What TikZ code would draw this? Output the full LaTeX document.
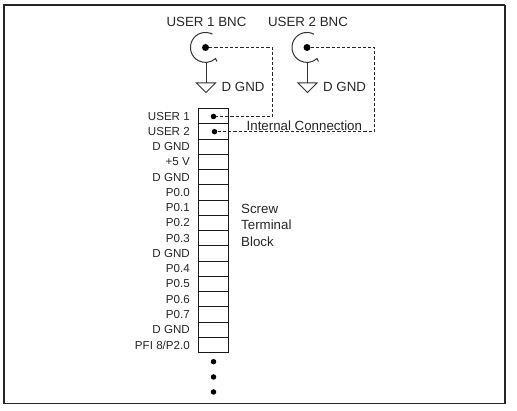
\documentclass[tikz,border=0pt]{standalone}
\usepackage{fontspec}
\setmainfont{Liberation Sans}
\tikzset{
  x=1pt,y=-1pt,
  frameline/.style={line width=#1,draw=black!85},
  rowbox/.style={draw=black!90,line width=1pt,minimum width=30.5pt,minimum height=15.26pt,inner sep=0pt,outer sep=0pt},
  rowlabel/.style={anchor=east,font=\fontsize{11.6}{12}\selectfont,text=black!85,inner sep=0pt},
  biglabel/.style={font=\fontsize{13.3}{14}\selectfont,text=black!85,inner sep=0pt},
  conn/.style={draw=black!85,line width=1pt,dash pattern=on 3.2pt off 2pt},
  wire/.style={draw=black!80,line width=1pt},
  blob/.style={circle,fill=black,inner sep=0pt,minimum size=#1},
}
\begin{document}
\begin{tikzpicture}
\useasboundingbox (0,0) rectangle (517,411);
% frame
\draw[frameline=2pt] (3.5,404) -- (3.5,5) -- (505,5);
\draw[frameline=1.5pt] (505,5) -- (505,404);
\draw[frameline=1pt] (3.5,404) -- (505,404);
% BNC connectors
\node[biglabel] (t1) at (206.5,22) {USER 1 BNC};
\node[biglabel] (t2) at (308,22) {USER 2 BNC};
\node[blob=7pt] (b1) at (205.5,47.5) {};
\node[blob=7pt] (b2) at (307,47.5) {};
\draw[wire] (212.5,34.2) arc[start angle=-62,end angle=-312,radius=15] -- (217,61.5);
\draw[wire] (314,34.2) arc[start angle=-62,end angle=-312,radius=15] -- (318.5,61.5);
% grounds
\coordinate (s1) at (206,62);
\coordinate (g1) at (206,83);
\coordinate (s2) at (307.5,62);
\coordinate (g2) at (307.5,83);
\draw[wire] (s1) -- (g1);
\draw[wire] (s2) -- (g2);
\draw[wire,line join=miter] (196.5,83) -- (215.5,83) -- (206,92.5) -- cycle;
\draw[wire,line join=miter] (298,83) -- (317,83) -- (307.5,92.5) -- cycle;
\node[biglabel,anchor=west] (d1) at (221.5,87) {D GND};
\node[biglabel,anchor=west] (d2) at (323,87) {D GND};
% terminal block
\foreach \i/\t in {1/USER 1,2/USER 2,3/D GND,4/+5 V,5/D GND,6/P0.0,7/P0.1,8/P0.2,9/P0.3,10/D GND,11/P0.4,12/P0.5,13/P0.6,14/P0.7,15/D GND,16/{PFI 8/P2.0}}{
  \node[rowbox] (r\i) at (213.5,{108.5+15.26*(\i-0.5)}) {};
  \node[rowlabel] (l\i) at (190,{108.5+15.26*(\i-0.5)}) {\t};
}
\node[blob=5.5pt] (p1) at (213.5,116.5) {};
\node[blob=5.5pt] (p2) at (214.5,131.7) {};
% dashed links
\coordinate (c1a) at (272.7,47.5);
\coordinate (c1b) at (272.7,116.5);
\coordinate (c2a) at (374.5,47.5);
\coordinate (c2b) at (374.5,131.7);
\draw[conn] (b1) -- (c1a) -- (c1b) -- (p1);
\draw[conn] (b2) -- (c2a) -- (c2b) -- (p2);
% labels
\node[biglabel,anchor=west] (ic) at (246.5,126) {Internal Connection};
\node[biglabel,anchor=west] (sc1) at (241,208.5) {Screw};
\node[biglabel,anchor=west] (sc2) at (241,225) {Terminal};
\node[biglabel,anchor=west] (sc3) at (241,241.5) {Block};
% continuation dots
\node[blob=5.5pt] (e1) at (213.5,361.7) {};
\node[blob=5.5pt] (e2) at (213.5,377) {};
\node[blob=5.5pt] (e3) at (213.5,392) {};
\end{tikzpicture}
\end{document}
